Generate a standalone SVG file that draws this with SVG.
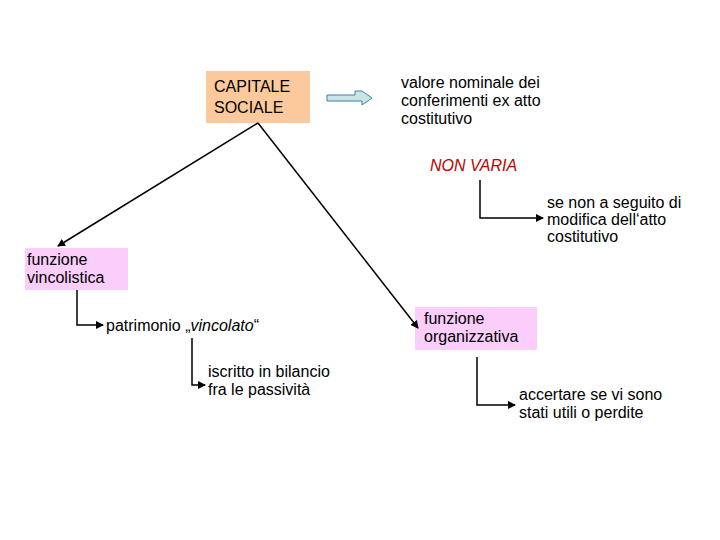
<svg xmlns="http://www.w3.org/2000/svg" width="720" height="540" viewBox="0 0 720 540">
<style>
text{font-family:"Liberation Sans",Arial,sans-serif;font-size:16px;fill:#000}
.c{fill:none;stroke:#000;stroke-width:1.5}
</style>
<defs><marker id="a" markerWidth="8" markerHeight="8" refX="7" refY="4" orient="auto" markerUnits="userSpaceOnUse"><path d="M0,0 L8,4 L0,8 z" fill="#000"/></marker></defs>
<rect width="720" height="540" fill="#fff"/>
<g id="capitale"><rect x="206" y="71" width="104" height="52" fill="#fbc99b"/><text x="214" y="92">CAPITALE</text><text x="214" y="113">SOCIALE</text></g>
<g id="valore"><text x="401" y="88">valore nominale dei</text><text x="401" y="106">conferimenti ex atto</text><text x="401" y="124">costitutivo</text></g>
<g id="nonvaria"><text x="430" y="171" font-style="italic" style="fill:#c00000">NON VARIA</text></g>
<g id="senon"><text x="547" y="208">se non a seguito di</text><text x="547" y="225">modifica dell‘atto</text><text x="547" y="242">costitutivo</text></g>
<g id="vincolistica"><rect x="25" y="248" width="103" height="42" fill="#fbcdfb"/><text x="27" y="265">funzione</text><text x="27" y="283">vincolistica</text></g>
<g id="patrimonio"><text x="106" y="331">patrimonio „<tspan font-style="italic">vincolato</tspan>“</text></g>
<g id="iscritto"><text x="208" y="377">iscritto in bilancio</text><text x="208" y="395">fra le passività</text></g>
<g id="organizzativa"><rect x="415" y="307" width="122" height="43" fill="#fbcdfb"/><text x="424" y="324">funzione</text><text x="424" y="342">organizzativa</text></g>
<g id="accertare"><text x="519" y="400">accertare se vi sono</text><text x="519" y="418">stati utili o perdite</text></g>
<g id="connectors">
<path d="M327,95 H355 V91 H362 L372,98 L362,105 V101 H327 Z" fill="#c8e6e6" stroke="#4a7ab0" stroke-width="1"/>
<line class="c" x1="258" y1="123" x2="58" y2="246" marker-end="url(#a)"/>
<line class="c" x1="258" y1="123" x2="418" y2="328" marker-end="url(#a)"/>
<path class="c" d="M480,180 V218 H543" marker-end="url(#a)"/>
<path class="c" d="M77,290 V325 H103" marker-end="url(#a)"/>
<path class="c" d="M192,338 V385 H205" marker-end="url(#a)"/>
<path class="c" d="M477,357 V405 H515" marker-end="url(#a)"/>
</g>
</svg>
